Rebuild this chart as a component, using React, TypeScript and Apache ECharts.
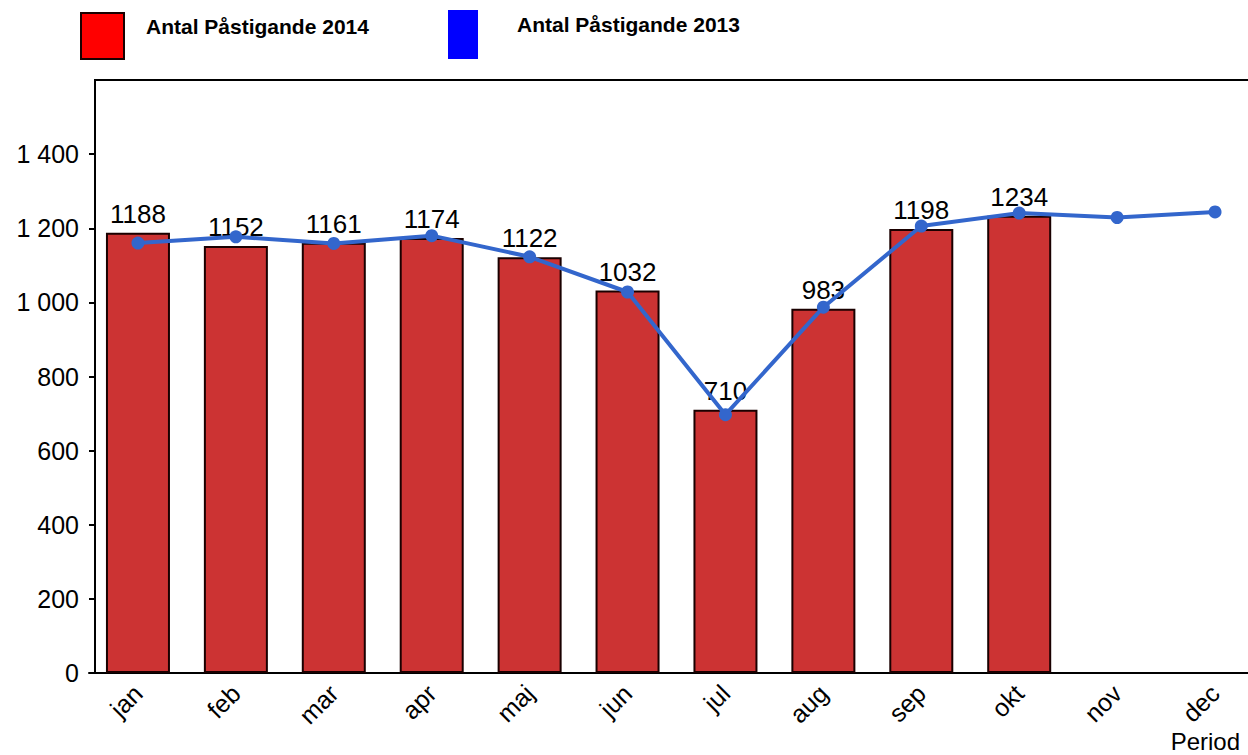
import React, { useEffect, useRef } from "react";
import * as echarts from "echarts";

const categories = ["jan", "feb", "mar", "apr", "maj", "jun", "jul", "aug", "sep", "okt", "nov", "dec"];
const values2014 = [1188, 1152, 1161, 1174, 1122, 1032, 710, 983, 1198, 1234, null, null];
const values2013 = [1160, 1177, 1159, 1180, 1123, 1028, 697, 987, 1206, 1241, 1229, 1244];
const yTicks = { min: 0, max: 1600, interval: 200 };
const name2014 = "Antal Påstigande 2014";
const name2013 = "Antal Påstigande 2013";
const xAxisTitle = "Period";

const FONT = "'Liberation Sans', Arial, sans-serif";

const legendText = (padLeft: number) => ({
  fontFamily: FONT,
  fontSize: 21,
  fontWeight: "bold",
  color: "#000",
  padding: [0, 0, 0, padLeft],
  rich: {
    t: { fontFamily: FONT, fontSize: 21, fontWeight: "bold", color: "#000", lineHeight: 24 },
    s: { fontSize: 1, lineHeight: 20, height: 20 },
  },
});

export default function App() {
  const ref = useRef<HTMLDivElement>(null);
  useEffect(() => {
    const chart = echarts.init(ref.current!, null, { renderer: "svg" });
    chart.setOption({
      animation: false,
      backgroundColor: "#ffffff",
      textStyle: { fontFamily: FONT },
      grid: { left: 89, width: 1175, top: 80, bottom: 82, containLabel: false, outerBoundsMode: "none" },
      legend: [
        {
          data: [{ name: name2014, itemStyle: { color: "#FF0000" } }],
          left: 80,
          top: 12,
          padding: 0,
          icon: "rect",
          itemWidth: 43,
          itemHeight: 46,
          selectedMode: false,
          formatter: (n: string) => `{t|${n}}\n{s| }`,
          textStyle: legendText(17),
        },
        {
          data: [{ name: name2013, itemStyle: { color: "#0000FF" } }],
          left: 448,
          top: 10,
          padding: 0,
          icon: "rect",
          itemWidth: 30,
          itemHeight: 49,
          selectedMode: false,
          formatter: (n: string) => `{t|${n}}\n{s| }`,
          textStyle: legendText(34),
        },
      ],
      xAxis: {
        type: "category",
        data: categories,
        boundaryGap: true,
        axisLine: { show: true, lineStyle: { color: "#000", width: 2 } },
        axisTick: { show: false },
        axisLabel: {
          rotate: 45,
          margin: 16,
          fontSize: 25,
          color: "#000",
          fontFamily: FONT,
        },
      },
      yAxis: {
        type: "value",
        min: yTicks.min,
        max: yTicks.max,
        interval: yTicks.interval,
        offset: -6,
        splitLine: { show: false },
        axisLine: { show: true, lineStyle: { color: "#000", width: 2 } },
        axisTick: { show: true, length: 6, lineStyle: { color: "#000", width: 2 } },
        axisLabel: {
          margin: 16,
          fontSize: 25,
          color: "#000",
          fontFamily: FONT,
          showMaxLabel: false,
          formatter: (v: number) => (v === yTicks.max ? "" : String(v).replace(/\B(?=(\d{3})+(?!\d))/g, " ")),
        },
      },
      series: [
        {
          name: name2014,
          type: "bar",
          data: values2014,
          barWidth: 64,
          itemStyle: { color: "#CC3333", borderColor: "#1a0000", borderWidth: 2 },
          label: {
            show: true,
            position: "top",
            distance: 6,
            fontSize: 26,
            color: "#000",
            fontFamily: FONT,
          },
          z: 2,
        },
        {
          name: name2013,
          type: "line",
          data: values2013,
          symbol: "circle",
          symbolSize: 13,
          lineStyle: { color: "#3366CC", width: 4 },
          itemStyle: { color: "#3366CC" },
          z: 3,
        },
      ],
      graphic: [
        {
          type: "line",
          shape: { x1: 94, y1: 80, x2: 1248, y2: 80 },
          style: { stroke: "#000", lineWidth: 2 },
        },
        {
          type: "text",
          x: 1240,
          y: 741,
          style: {
            text: xAxisTitle,
            fill: "#000",
            fontSize: 24,
            fontFamily: FONT,
            align: "right",
            verticalAlign: "middle",
          },
        },
      ],
    });
    return () => chart.dispose();
  }, []);
  return (
    <div
      ref={ref}
      style={{ position: "fixed", left: 0, top: 0, width: 1248, height: 755, background: "#fff" }}
    />
  );
}
